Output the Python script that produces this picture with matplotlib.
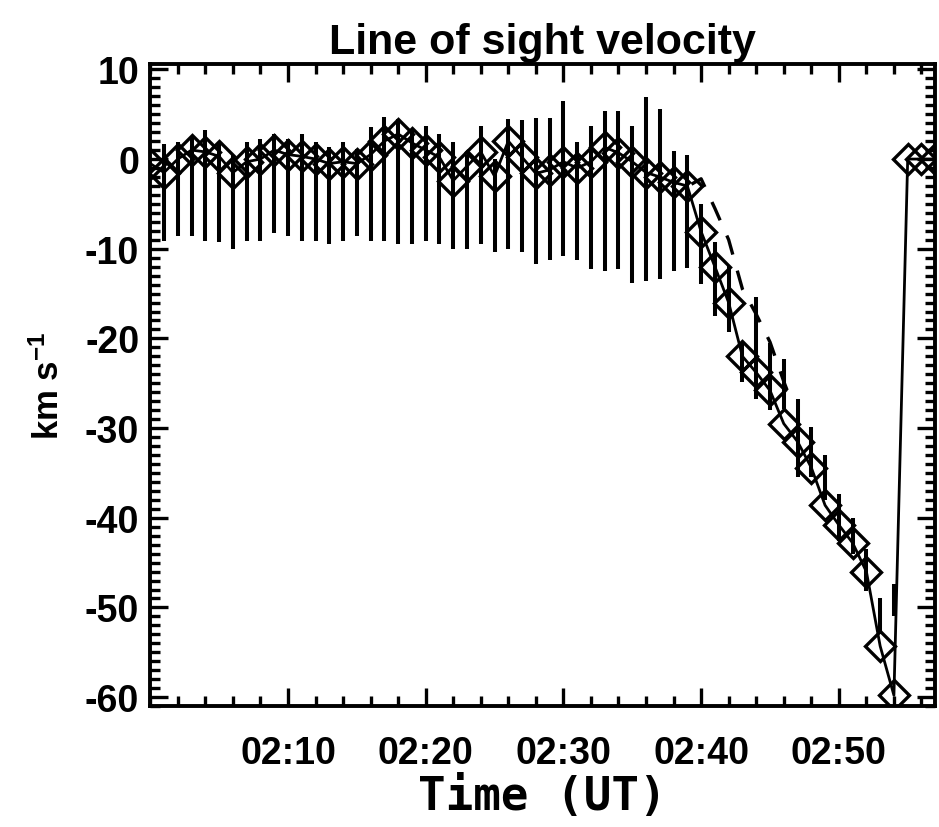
import numpy as np
import matplotlib
matplotlib.use("Agg")
import matplotlib.pyplot as plt
from matplotlib.ticker import MultipleLocator, FixedLocator

# minutes after 02:00 UT
t_min = [0, 1, 2, 3, 4, 5, 6, 7, 8, 9, 10, 11, 12, 13, 14, 15, 16, 17, 18, 19,
         20, 21, 22, 23, 24, 25, 26, 27, 28, 29, 30, 31, 32, 33, 34, 35, 36, 37, 38, 39,
         40, 41, 42, 43, 44, 45, 46, 47, 48, 49, 50, 51, 52, 53, 54, 55, 56, 57]

# line of sight velocity (km/s)
v_los = [-0.5, -1.5, 0.0, 1.0, 0.8, 0.3, -1.5, -0.3, 0.0, 1.0,
         0.5, 0.3, 0.0, -0.5, -0.3, -0.5, 0.5, 2.0, 2.8, 1.8,
         1.0, 0.2, -2.4, -0.8, 0.8, -1.9, 2.0, 0.2, -1.6, -1.2,
         -0.3, -1.0, -0.3, 1.3, 0.7, -0.3, -1.5, -2.0, -2.6, -3.0,
         -8.1, -12.0, -16.0, -22.0, -23.8, -25.8, -29.5, -31.5, -34.4, -38.6,
         -40.8, -42.8, -46.0, -54.3, -59.8, 0.0, 0.0, 0.0]

# error bar extent, minutes 1..54
t_err = t_min[1:55]
err_hi = [1.7, 1.9, 2.5, 3.2, 1.9, 0.5, 1.9, 2.2, 2.8, 2.2,
          2.8, 1.9, 1.3, 1.9, 1.1, 3.6, 4.7, 4.5, 3.2, 3.7,
          2.8, 1.9, 0.5, 3.7, 0.0, 4.5, 4.3, 4.6, 4.6, 6.5,
          1.9, 3.7, 5.4, 5.4, 3.7, 6.9, 5.6, 0.9, 0.4, -5.0,
          -9.3, -11.9, -20.4, -15.4, -20.5, -22.3, -26.8, -29.9, -33.0, -37.4,
          -40.0, -43.5, -49.0, -47.4]
err_lo = [-9.1, -8.6, -8.6, -9.1, -9.3, -10.0, -9.1, -9.1, -8.2, -8.6,
          -9.1, -9.1, -9.5, -9.1, -8.6, -9.1, -9.1, -9.5, -9.5, -9.1,
          -9.5, -10.0, -10.0, -9.5, -10.4, -10.0, -10.4, -11.7, -11.3, -10.8,
          -11.3, -12.3, -12.5, -12.3, -13.8, -13.6, -13.4, -12.5, -12.1, -13.9,
          -17.5, -19.3, -24.9, -26.8, -28.0, -27.9, -35.5, -35.4, -38.0, -42.6,
          -44.0, -48.2, -53.0, -51.0]

# dashed curve
t_dash = [39.3, 40.0, 41.0, 42.0, 43.0, 44.0, 45.0, 46.0, 46.5]
v_dash = [-2.8, -2.2, -5.5, -9.0, -14.5, -17.3, -20.4, -24.8, -26.8]

xtick_pos = [10, 20, 30, 40, 50]
xtick_lab = ['02:10', '02:20', '02:30', '02:40', '02:50']

plt.rcParams['font.family'] = ['Liberation Sans', 'DejaVu Sans']
plt.rcParams['font.weight'] = 'bold'
plt.rcParams['mathtext.default'] = 'regular'
plt.rcParams['axes.unicode_minus'] = False

fig = plt.figure(figsize=(9.39, 8.28), dpi=100)
ax = fig.add_axes([0.160, 0.146, 0.836, 0.7755])

ax.vlines(t_err, err_lo, err_hi, color='k', lw=2.9, zorder=2)
ax.plot(t_min, v_los, '-', color='k', lw=2.0, marker='D', ms=15,
        mfc='none', mec='k', mew=2.4, zorder=3)
ax.plot(t_dash, v_dash, color='k', lw=2.4, dashes=(6, 5), zorder=4)

ax.set_xlim(0, 57)
ax.set_ylim(-61.0, 10.6)

ax.xaxis.set_major_locator(FixedLocator(xtick_pos))
ax.set_xticklabels(xtick_lab)
ax.xaxis.set_minor_locator(MultipleLocator(2))
ax.yaxis.set_major_locator(MultipleLocator(10))
ax.yaxis.set_minor_locator(MultipleLocator(1))
ax.tick_params(which='both', direction='in', top=True, right=True, width=2.4)
ax.tick_params(which='major', length=13, labelsize=27)
ax.tick_params(axis='x', which='major', pad=21)
ax.tick_params(axis='y', which='major', pad=8)
ax.tick_params(which='minor', length=7)
for s in ax.spines.values():
    s.set_linewidth(2.8)

ax.set_title('Line of sight velocity', fontsize=31, fontweight='bold', pad=8)
ax.set_ylabel('km s$^{-1}$', fontsize=25, fontweight='bold', labelpad=14)
ax.set_xlabel('Time (UT)', fontsize=33, fontweight='bold',
              family='DejaVu Sans Mono', labelpad=2)

fig.savefig('out.png', dpi=100)
